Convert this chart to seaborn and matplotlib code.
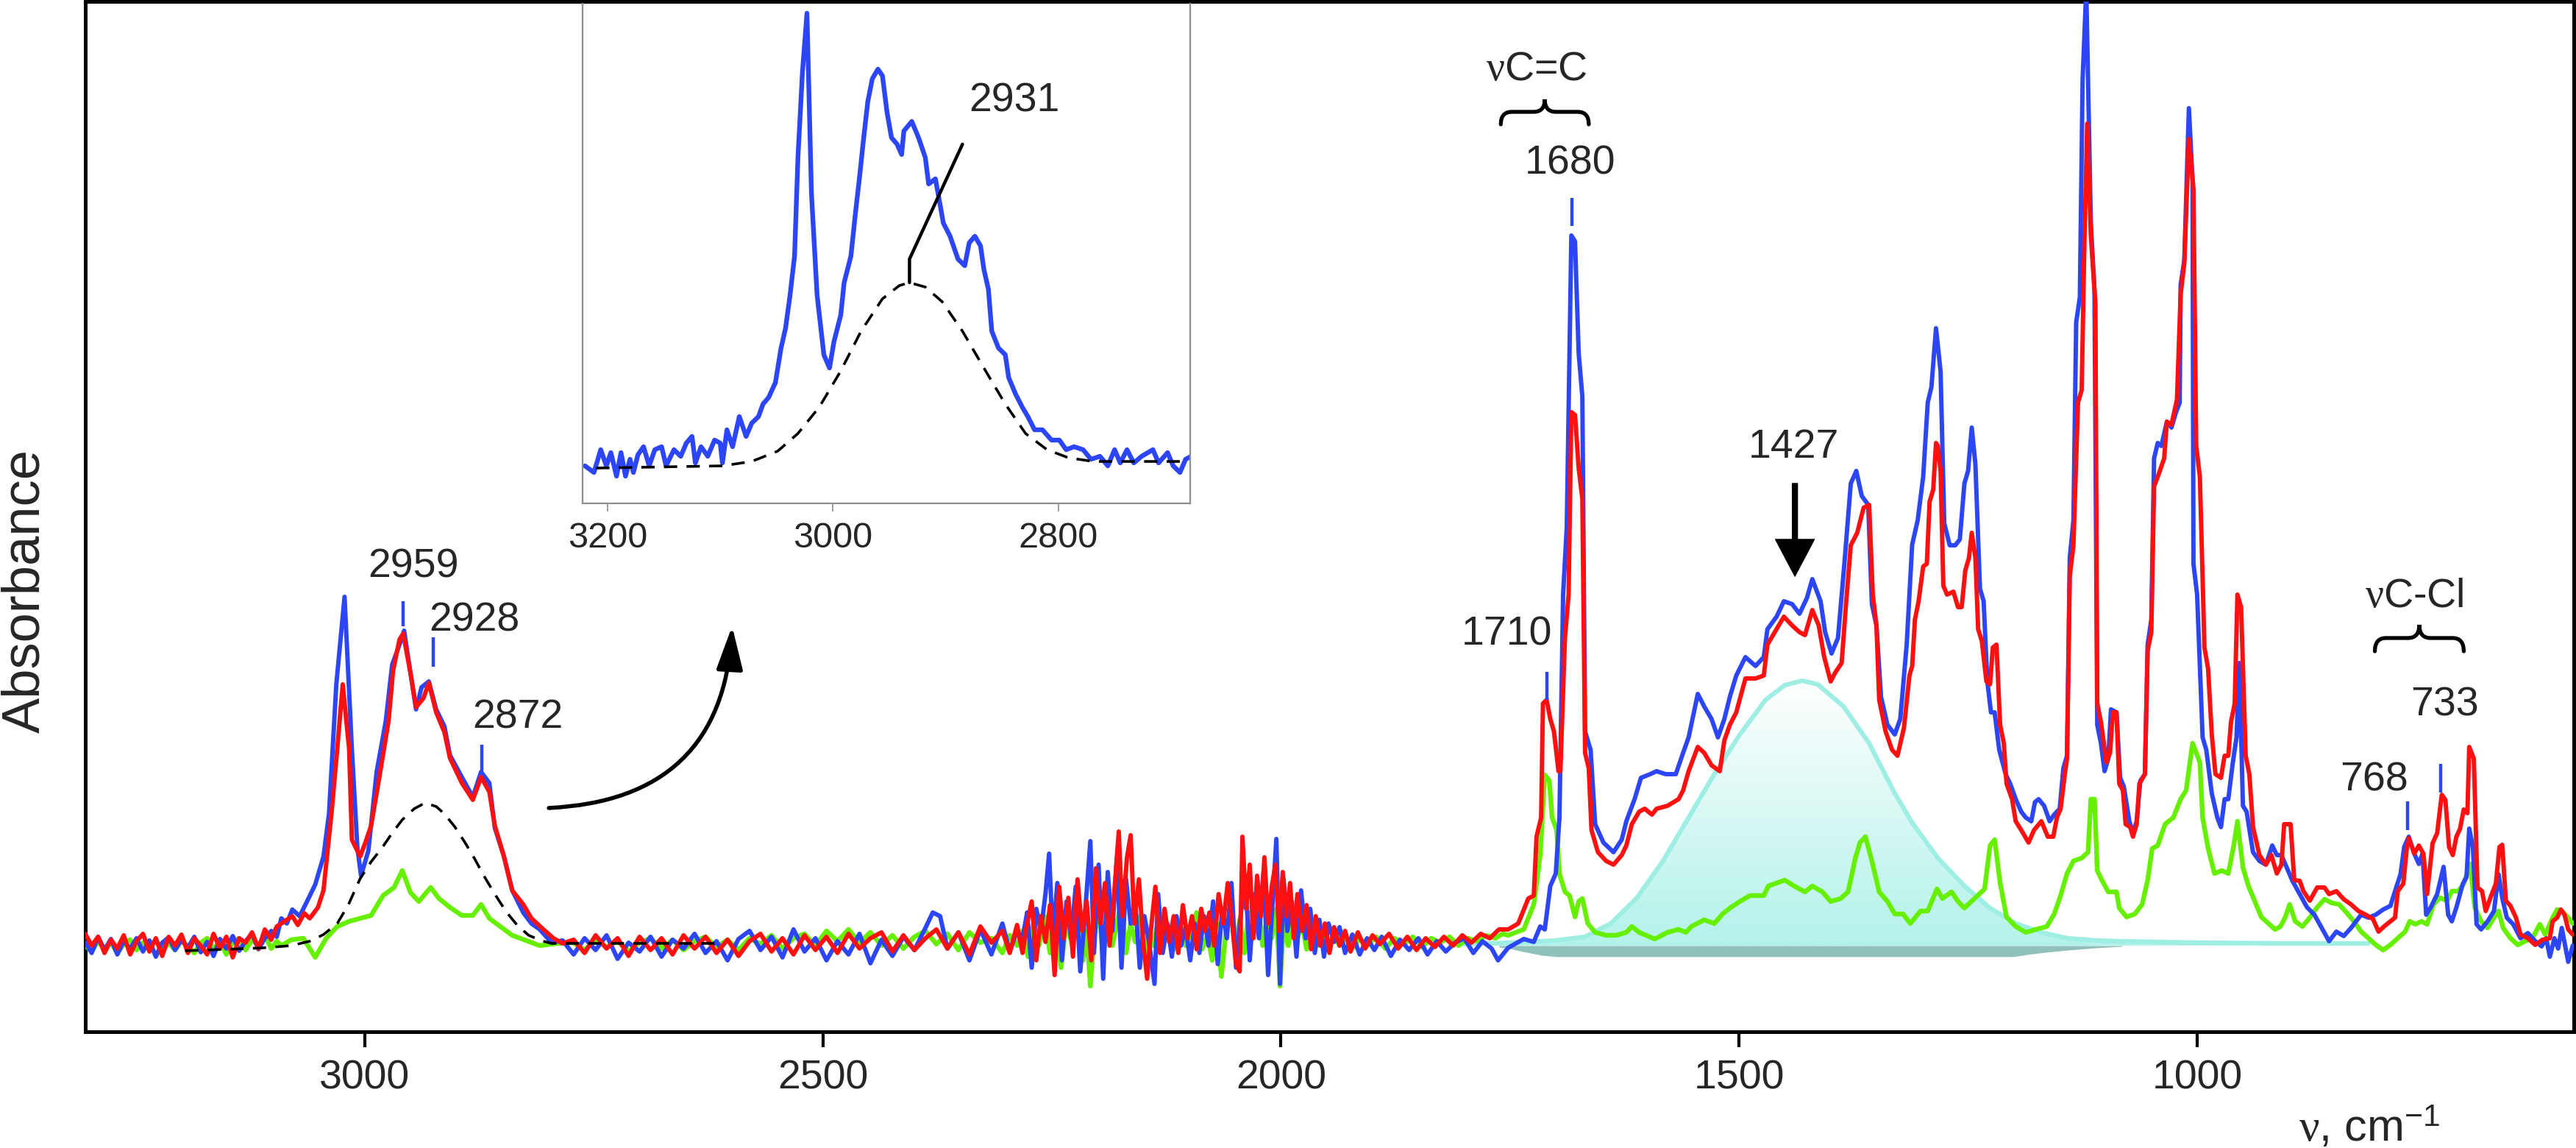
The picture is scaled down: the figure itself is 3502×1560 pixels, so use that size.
import numpy as np
import matplotlib
matplotlib.use('Agg')
import matplotlib.pyplot as plt
from matplotlib.path import Path
from matplotlib.patches import PathPatch
from matplotlib.colors import LinearSegmentedColormap
import seaborn as sns

# IR spectra: (wavenumber cm-1, absorbance, arbitrary units)
blue_pts = [
    (3305, .004), (3298, -.010), (3291, .012), (3284, -.006), (3277, .009), (3270, -.012),
    (3263, .006), (3256, -.004), (3249, .010), (3242, -.008), (3235, .007), (3228, -.015),
    (3221, .004), (3214, .011), (3207, -.006), (3200, .008), (3193, -.003), (3186, .012),
    (3179, -.009), (3172, .005), (3165, -.014), (3158, .009), (3151, -.004), (3144, .013),
    (3137, -.007), (3130, .006), (3123, .016), (3116, -.005), (3109, .010), (3102, .020),
    (3096, .012), (3091, .037), (3085, .030), (3079, .049), (3071, .040), (3063, .060),
    (3054, .083), (3045, .121), (3039, .179), (3031, .355), (3022, .474), (3014, .267),
    (3008, .133), (3004, .095), (2996, .129), (2987, .236), (2977, .305), (2970, .382),
    (2962, .409), (2957, .428), (2950, .370), (2944, .321), (2938, .351), (2930, .359),
    (2922, .321), (2913, .298), (2907, .259), (2894, .229), (2882, .202), (2873, .236),
    (2864, .221), (2858, .160), (2848, .121), (2839, .075), (2827, .045), (2818, .030),
    (2809, .022), (2796, .004), (2784, .007),
    (2772, -.012), (2760, .010), (2748, -.006), (2736, .014), (2724, -.018), (2712, .004),
    (2700, -.008), (2688, .012), (2676, -.015), (2664, .008), (2652, -.004), (2640, .016),
    (2628, -.010), (2616, .006), (2604, -.020), (2592, .009), (2580, .020), (2568, -.006),
    (2556, .012), (2544, -.016), (2532, .022), (2520, -.008), (2508, .010), (2496, -.020),
    (2484, .006), (2472, -.012), (2460, .016), (2448, -.024), (2436, .008), (2424, -.014),
    (2412, .012), (2400, -.006), (2388, .024), (2380, .045), (2372, .040), (2364, -.004),
    (2352, .018), (2340, -.020), (2328, .022), (2316, -.012), (2304, .030), (2296, -.008),
    (2288, .020),
    (2282, .010), (2277, .045), (2272, -.030), (2267, .050), (2262, .020), (2257, .070),
    (2253, .125), (2249, .010), (2244, .085), (2239, -.020), (2234, .060), (2229, .010),
    (2224, .080), (2219, -.035), (2214, .040), (2208, .142), (2204, -.010), (2199, .110),
    (2194, -.045), (2189, .100), (2184, .020), (2179, .120), (2174, -.030), (2169, .090),
    (2164, .030), (2159, .060), (2154, -.030), (2149, .040), (2144, .005), (2138, -.052),
    (2134, .070), (2129, -.010), (2124, .030), (2119, -.015), (2114, .040), (2109, .000),
    (2104, .025), (2099, -.020), (2094, .030), (2089, -.010), (2084, .040),
    (2079, .000), (2074, .060), (2069, -.025), (2064, .050), (2059, .010), (2054, .085),
    (2049, -.030), (2044, .040), (2039, .095), (2034, -.020), (2029, .070), (2024, .010),
    (2019, .100), (2014, -.040), (2009, .060), (2005, .145), (2001, -.052), (1997, .090),
    (1993, .020), (1988, .060), (1983, -.015), (1978, .075), (1973, .010), (1968, .050),
    (1963, -.010), (1958, .035), (1953, -.015), (1948, .030), (1942, .005), (1936, .025),
    (1930, -.010), (1922, .015), (1914, -.012), (1906, .010), (1898, -.006),
    (1890, .012), (1880, -.014), (1870, .008), (1860, -.006), (1850, .010), (1840, -.012),
    (1830, .006), (1820, -.008), (1810, .004), (1800, .010), (1790, -.010), (1780, .006),
    (1770, -.004), (1763, -.020), (1752, -.003),
    (1735, .009), (1724, .005), (1717, .026), (1712, .022), (1706, .081), (1700, .098),
    (1696, .174), (1692, .477), (1688, .569), (1683, .965), (1679, .957), (1675, .805),
    (1671, .746), (1668, .291), (1662, .266), (1657, .165), (1648, .140), (1637, .127),
    (1628, .144), (1623, .169), (1614, .199), (1607, .228), (1597, .233), (1590, .237),
    (1580, .233), (1569, .233), (1561, .262), (1555, .283), (1545, .342), (1538, .325),
    (1530, .308), (1523, .283), (1516, .308), (1510, .338), (1503, .367), (1493, .392),
    (1482, .380), (1473, .392), (1469, .430), (1459, .447), (1451, .468), (1442, .464),
    (1434, .451), (1426, .472), (1420, .498), (1411, .468), (1406, .426), (1399, .397),
    (1392, .418), (1385, .519), (1378, .628), (1372, .645), (1366, .611), (1359, .599),
    (1355, .464), (1350, .435), (1345, .338), (1338, .300), (1330, .287), (1324, .308),
    (1317, .409), (1311, .545),
    (1305, .578), (1299, .637), (1294, .738), (1290, .759), (1285, .839), (1280, .780),
    (1276, .574), (1270, .544), (1264, .544), (1259, .552), (1254, .628), (1250, .645),
    (1246, .704), (1242, .654), (1237, .485), (1233, .468), (1229, .359), (1225, .317),
    (1221, .317), (1216, .266), (1209, .233), (1204, .220), (1198, .199), (1192, .182),
    (1187, .174), (1181, .169), (1177, .195), (1173, .199), (1167, .190), (1161, .169),
    (1156, .178), (1150, .186), (1146, .241), (1142, .258), (1139, .527), (1135, .578),
    (1132, .847), (1128, .881), (1125, 1.176), (1121, 1.30), (1116, .982), (1112, .889),
    (1109, .300), (1105, .275), (1101, .237), (1097, .254), (1094, .321), (1088, .317),
    (1084, .228), (1080, .216), (1074, .169), (1070, .153), (1066, .169), (1062, .224),
    (1057, .233), (1054, .409), (1050, .443), (1047, .662), (1043, .683), (1039, .679),
    (1033, .712), (1028, .704), (1023, .725), (1019, .738), (1018, .898), (1014, .931),
    (1009, 1.138), (1005, 1.041), (1004, .519), (1000, .477), (994, .283), (990, .266),
    (984, .207), (978, .174), (974, .161), (970, .199), (966, .199), (961, .249),
    (957, .283), (954, .384), (950, .190), (946, .182), (939, .127), (932, .115),
    (925, .110), (918, .136), (913, .123), (908, .123),
    (896, .088), (888, .070), (880, .052), (872, .042), (864, .024), (856, .006),
    (848, .019), (840, .013), (832, .024), (821, .042), (813, .038), (805, .042),
    (797, .049), (789, .054), (784, .074), (778, .097), (774, .134), (769, .148),
    (763, .125), (758, .111), (754, .125), (750, .042), (745, .052), (738, .070),
    (731, .107), (726, .042), (722, .033), (717, .052), (710, .084), (706, .093),
    (703, .159), (699, .134), (695, .029), (690, .022), (683, .033), (676, .047),
    (671, .097), (667, .065), (662, .038), (655, .029), (647, .010), (639, .017),
    (631, .006), (624, -.001), (619, .010), (615, -.015), (610, .010), (606, -.004),
    (602, .024), (595, -.022), (590, .000),
]

red_pts = [
    (3305, .016), (3298, .000), (3291, .012), (3284, -.010), (3277, .008), (3270, -.004),
    (3263, .014), (3256, -.012), (3249, .006), (3242, .016), (3235, -.008), (3228, .010),
    (3221, -.014), (3214, .012), (3207, .000), (3200, .015), (3193, -.010), (3186, .010),
    (3179, .000), (3172, -.012), (3165, .016), (3158, -.004), (3151, .012), (3144, -.016),
    (3137, .010), (3130, .004), (3123, .018), (3116, -.004), (3109, .022), (3102, .008),
    (3096, .026), (3091, .030), (3079, .040), (3073, .028), (3066, .044), (3060, .037),
    (3051, .052), (3045, .075), (3036, .183), (3030, .267), (3024, .355), (3017, .267),
    (3014, .144), (3005, .121), (2999, .141), (2993, .163), (2984, .229), (2974, .305),
    (2969, .374), (2962, .416), (2958, .424), (2950, .370), (2944, .324), (2936, .336),
    (2930, .357), (2922, .317), (2913, .290), (2907, .255), (2894, .221), (2882, .198),
    (2873, .229), (2864, .209), (2858, .163), (2848, .121), (2839, .075), (2827, .056),
    (2818, .037), (2805, .022), (2794, .010), (2784, .003),
    (2772, .008), (2760, -.010), (2748, .014), (2736, -.004), (2724, .010), (2712, -.014),
    (2700, .012), (2688, -.006), (2676, .010), (2664, -.012), (2652, .014), (2640, -.004),
    (2628, .012), (2616, -.010), (2604, .008), (2592, -.014), (2580, .006), (2568, .016),
    (2556, -.008), (2544, .010), (2532, -.012), (2520, .014), (2508, -.006), (2496, .012),
    (2484, -.010), (2472, .016), (2460, -.004), (2448, .010), (2436, .018), (2424, -.008),
    (2412, .014), (2400, -.006), (2388, .010), (2376, .022), (2364, -.004), (2352, .018),
    (2340, -.012), (2328, .026), (2316, .004), (2304, .020), (2296, -.010), (2288, .028),
    (2282, -.010), (2277, .030), (2272, .060), (2267, -.020), (2262, .040), (2257, .005),
    (2252, .055), (2247, -.040), (2242, .080), (2237, .010), (2232, .065), (2227, -.015),
    (2222, .090), (2217, .020), (2212, .060), (2207, -.020), (2202, .105), (2197, .030),
    (2192, .085), (2187, .000), (2182, .070), (2177, .155), (2173, .040), (2168, .120),
    (2164, .150), (2160, .030), (2155, .090), (2150, .000), (2146, -.045), (2142, .020),
    (2137, .080), (2132, -.010), (2127, .050), (2122, .005), (2117, .040), (2112, -.010),
    (2107, .055), (2102, .010), (2097, .040), (2092, -.005), (2087, .050), (2083, .020),
    (2078, .045), (2073, .000), (2068, .070), (2063, .030), (2058, .085), (2054, .040),
    (2049, -.025), (2045, -.035), (2042, .148), (2038, .050), (2034, .110), (2030, .010),
    (2026, .095), (2022, .040), (2018, .120), (2014, .030), (2010, .080), (2006, .110),
    (2002, .020), (1998, .100), (1994, .040), (1990, .085), (1986, .010), (1982, .070),
    (1977, .020), (1972, .055), (1967, -.005), (1962, .040), (1957, .000), (1952, .030),
    (1947, -.010), (1942, .025), (1936, .000), (1930, .020), (1924, -.008), (1916, .018),
    (1908, -.004), (1900, .014),
    (1892, .002), (1882, .016), (1872, -.004), (1862, .012), (1852, -.006), (1842, .010),
    (1832, -.002), (1822, .012), (1812, .000), (1802, .014), (1792, .004), (1782, .016),
    (1772, .010), (1762, .022),
    (1752, .022), (1741, .030), (1730, .064), (1724, .068), (1721, .148), (1716, .174),
    (1714, .329), (1710, .334), (1706, .308), (1702, .291), (1697, .237), (1695, .237),
    (1690, .418), (1686, .477), (1683, .725), (1679, .721), (1675, .649), (1671, .607),
    (1668, .262), (1664, .241), (1661, .157), (1654, .127), (1645, .115), (1637, .110),
    (1628, .123), (1623, .136), (1617, .165), (1609, .182), (1603, .186), (1595, .178),
    (1590, .186), (1578, .190), (1566, .199), (1561, .211), (1555, .237), (1545, .270),
    (1538, .262), (1530, .245), (1521, .237), (1516, .279), (1510, .300), (1503, .317),
    (1493, .363), (1482, .363), (1473, .367), (1469, .409), (1459, .430), (1451, .447),
    (1442, .435), (1434, .426), (1428, .422), (1420, .456), (1413, .435), (1407, .392),
    (1400, .359), (1395, .371), (1388, .384), (1383, .468), (1378, .544), (1371, .561),
    (1364, .595), (1358, .599), (1354, .477), (1350, .435), (1347, .334), (1340, .291),
    (1333, .266), (1327, .258), (1320, .296), (1314, .367), (1311, .380),
    (1308, .443), (1304, .468), (1299, .515), (1295, .519), (1292, .603), (1288, .620),
    (1285, .683), (1283, .679), (1280, .645), (1277, .489), (1273, .477), (1266, .481),
    (1261, .460), (1257, .460), (1253, .510), (1249, .527), (1246, .561), (1242, .527),
    (1239, .430), (1235, .414), (1230, .359), (1226, .355), (1223, .405), (1219, .409),
    (1215, .300), (1211, .275), (1208, .220), (1202, .199), (1198, .169), (1192, .157),
    (1184, .140), (1178, .157), (1170, .169), (1163, .148), (1157, .148), (1153, .174),
    (1149, .186), (1144, .237), (1142, .254), (1139, .502), (1135, .544), (1130, .738),
    (1126, .755), (1123, .957), (1120, 1.117), (1116, .965), (1111, .872), (1109, .329),
    (1105, .304), (1099, .249), (1095, .262), (1092, .317), (1088, .317), (1085, .220),
    (1081, .211), (1078, .165), (1073, .161), (1070, .148), (1066, .165), (1063, .220),
    (1057, .233), (1054, .401), (1050, .426), (1047, .624), (1043, .637), (1036, .662),
    (1033, .712), (1028, .708), (1022, .742), (1018, .885), (1014, .927), (1009, 1.096),
    (1004, 1.028), (1001, .679), (997, .637), (992, .405), (988, .376), (984, .287),
    (980, .233), (974, .228), (970, .258), (966, .258), (963, .304), (959, .329),
    (956, .477), (952, .460), (947, .258), (943, .233), (939, .161), (932, .123),
    (925, .110), (919, .123), (913, .098), (908, .110), (905, .165), (898, .165),
    (894, .089), (888, .088), (884, .074), (877, .061), (869, .079), (861, .079),
    (856, .070), (848, .074), (840, .063), (832, .056), (824, .047), (816, .042),
    (808, .036), (802, .019), (796, .026), (789, .033), (784, .038), (781, .074),
    (775, .084), (771, .134), (769, .146), (763, .125), (758, .136), (753, .125),
    (749, .070), (743, .139), (738, .153), (733, .205), (729, .198), (725, .134),
    (721, .123), (717, .148), (713, .159), (709, .185), (705, .180), (703, .270),
    (698, .254), (694, .079), (689, .074), (685, .047), (679, .068), (674, .084),
    (670, .134), (667, .137), (663, .061), (658, .054), (652, .038), (647, .015),
    (639, .010), (631, .001), (623, .008), (615, .010), (612, .033), (607, .038),
    (603, .049), (599, .042), (595, .022), (590, .015),
]

green_pts = [
    (3305, .000), (3298, -.008), (3291, .006), (3284, -.004), (3277, .004), (3270, -.010),
    (3263, .002), (3256, .008), (3249, -.006), (3242, .004), (3235, -.002), (3228, .008),
    (3221, -.008), (3214, .004), (3207, -.006), (3200, .006), (3193, .000), (3186, -.010),
    (3179, .004), (3172, .010), (3165, -.004), (3158, .006), (3151, -.012), (3144, .004),
    (3137, .010), (3130, -.006), (3123, .008), (3116, .000), (3109, .014), (3102, -.004),
    (3096, .006), (3091, .000), (3080, .008), (3067, .010), (3054, -.016), (3042, .010),
    (3030, .026), (3017, .033), (3005, .037), (2993, .041), (2980, .068), (2968, .079),
    (2959, .102), (2950, .072), (2941, .060), (2928, .079), (2919, .064), (2907, .052),
    (2894, .041), (2882, .041), (2873, .056), (2864, .037), (2852, .026), (2839, .014),
    (2824, .007), (2809, .000), (2790, .003),
    (2772, .004), (2760, -.006), (2748, .008), (2736, -.002), (2724, .006), (2712, -.008),
    (2700, .004), (2688, .010), (2676, -.004), (2664, .008), (2652, -.006), (2640, .006),
    (2628, .012), (2616, -.002), (2604, .008), (2592, -.006), (2580, .010), (2568, .002),
    (2556, .014), (2544, -.004), (2532, .010), (2520, .016), (2508, .000), (2496, .020),
    (2484, .006), (2472, .022), (2460, .004), (2448, .018), (2436, .000), (2424, .014),
    (2412, -.004), (2400, .012), (2388, .020), (2376, .002), (2364, .016), (2352, -.006),
    (2340, .018), (2328, .004), (2316, .010), (2304, -.010), (2296, .014), (2288, .000),
    (2282, .020), (2276, -.015), (2270, .030), (2264, .000), (2258, .040), (2252, -.010),
    (2246, .025), (2240, -.030), (2234, .035), (2228, .000), (2222, .045), (2216, -.020),
    (2212, .020), (2208, -.055), (2204, .010), (2199, .050), (2194, -.015), (2189, .040),
    (2184, .000), (2179, .030), (2174, .060), (2169, -.010), (2164, .030), (2159, .005),
    (2154, .040), (2149, -.010), (2144, .020), (2139, .000), (2134, .035), (2128, .005),
    (2122, .025), (2116, -.005), (2110, .030), (2104, .000), (2098, .020), (2092, .045),
    (2086, -.005),
    (2080, .015), (2075, -.020), (2070, .030), (2065, -.042), (2060, .020), (2055, .050),
    (2050, .000), (2045, .035), (2040, -.010), (2035, .045), (2030, .015), (2025, .060),
    (2020, .000), (2015, .040), (2010, .010), (2005, .050), (2001, -.055), (1997, .030),
    (1992, .000), (1987, .040), (1982, .010), (1977, .030), (1972, -.005), (1966, .025),
    (1960, .000), (1954, .020), (1948, -.008), (1942, .016), (1936, .000), (1930, .012),
    (1922, -.004), (1914, .010),
    (1906, .000), (1896, .012), (1886, -.004), (1876, .010), (1866, .002), (1856, .012),
    (1846, -.002), (1836, .010), (1826, .004), (1816, .012), (1806, .000), (1796, .010),
    (1786, .006), (1776, .014), (1766, .010), (1758, .016),
    (1752, .014), (1735, .022), (1724, .056), (1717, .123), (1712, .232), (1707, .224),
    (1704, .174), (1699, .157), (1696, .098), (1690, .073), (1685, .068), (1679, .039),
    (1675, .060), (1671, .064), (1665, .030), (1657, .018), (1645, .014), (1634, .014),
    (1623, .018), (1617, .026), (1609, .018), (1592, .009), (1578, .018), (1566, .022),
    (1558, .018), (1552, .026), (1538, .035), (1527, .030), (1518, .043), (1510, .051),
    (1499, .060), (1488, .068), (1473, .068), (1468, .081), (1459, .085), (1450, .089),
    (1440, .081), (1428, .073), (1420, .081), (1409, .073), (1400, .060), (1389, .064),
    (1381, .073), (1373, .119), (1368, .140), (1362, .148), (1355, .115), (1347, .073),
    (1338, .060), (1330, .043), (1321, .043), (1313, .030),
    (1302, .047), (1294, .047), (1284, .077), (1278, .064), (1268, .073), (1261, .060),
    (1254, .051), (1243, .064), (1232, .077), (1226, .136), (1221, .144), (1215, .085),
    (1208, .039), (1198, .026), (1187, .018), (1176, .022), (1164, .026), (1156, .043),
    (1149, .068), (1142, .098), (1135, .115), (1126, .119), (1119, .127), (1116, .199),
    (1112, .199), (1109, .102), (1104, .089), (1097, .073), (1088, .073), (1085, .051),
    (1077, .039), (1068, .043), (1060, .056), (1054, .089), (1049, .132), (1043, .136),
    (1035, .165), (1026, .174), (1018, .199), (1012, .211), (1005, .275), (1001, .262),
    (997, .249), (994, .174), (988, .132), (981, .098), (973, .102), (966, .098),
    (960, .136), (956, .169), (950, .106), (944, .081), (937, .060), (930, .039),
    (922, .030), (915, .022), (909, .026),
    (904, .038), (899, .056), (893, .033), (885, .026), (877, .038), (869, .052),
    (861, .063), (853, .058), (845, .056), (837, .045), (829, .033), (821, .019),
    (813, .010), (805, .001), (797, -.006), (789, .001), (781, .010), (773, .019),
    (768, .033), (762, .029), (755, .033), (749, .029), (742, .056), (735, .065),
    (727, .061), (722, .074), (715, .074), (709, .084), (702, .111), (697, .052),
    (690, .033), (683, .024), (676, .038), (671, .047), (666, .024), (658, .010),
    (650, .001), (642, .006), (634, .010), (626, .029), (620, .015), (612, .038),
    (607, .049), (602, .047), (595, .038), (590, .030),
]

# fitted components
gauss_2931 = [
    (3196, -.007), (3150, -.005), (3110, -.003), (3080, .000), (3060, .006), (3045, .015),
    (3030, .030), (3018, .055), (3005, .091), (2993, .114), (2981, .133), (2970, .153),
    (2959, .171), (2946, .186), (2934, .194), (2922, .189), (2913, .179), (2902, .162),
    (2891, .141), (2880, .118), (2870, .095), (2857, .068), (2845, .045), (2833, .027),
    (2821, .014), (2808, .007), (2796, .003), (2700, .003), (2612, .003),
]
band_1427 = [
    (1800, .002), (1770, .003), (1750, .004), (1730, .005), (1700, .007), (1668, .012),
    (1640, .030), (1612, .064), (1583, .115), (1555, .174), (1527, .233), (1499, .287),
    (1471, .334), (1450, .354), (1431, .360), (1414, .355), (1386, .325), (1358, .275),
    (1330, .207), (1311, .167), (1283, .119), (1254, .081), (1226, .051), (1198, .030),
    (1170, .018), (1142, .010), (1110, .007), (1085, .006), (1000, .004), (900, .003),
    (813, .003),
]
shadow_wn = [1762, 1750, 1740, 1728, 1716, 1700, 1200, 1185, 1165, 1140, 1110, 1082]
shadow_lo = [-.002, -.004, -.007, -.010, -.013, -.015, -.015, -.012, -.009, -.006, -.003, -.001]

# inset (2931 region, blue spectrum only)
inset_blue = [
    (3220, .001), (3212, -.008), (3206, .023), (3201, .001), (3197, .019), (3192, -.013),
    (3188, .019), (3184, -.013), (3180, .010), (3177, -.008), (3173, .016), (3168, .027),
    (3163, .001), (3158, .023), (3152, .027), (3148, .001), (3141, .023), (3135, .014),
    (3130, .032), (3125, .041), (3122, .005), (3117, .027), (3111, .014), (3105, .036),
    (3100, .032), (3098, .005), (3094, .050), (3089, .027), (3083, .068), (3077, .041),
    (3072, .059), (3066, .068), (3062, .085), (3057, .094), (3051, .114), (3046, .161),
    (3042, .188), (3038, .233), (3034, .286), (3031, .420), (3027, .536), (3023, .616),
    (3019, .371), (3014, .233), (3008, .152), (3003, .134), (2999, .170), (2993, .206),
    (2990, .250), (2984, .286), (2980, .344), (2976, .398), (2973, .442), (2969, .496),
    (2965, .527), (2960, .540), (2956, .531), (2952, .482), (2948, .447), (2943, .438),
    (2939, .424), (2937, .456), (2930, .469), (2924, .447), (2918, .420), (2915, .384),
    (2909, .391), (2905, .357), (2902, .331), (2896, .313), (2889, .282), (2883, .273),
    (2879, .304), (2874, .313), (2869, .300), (2866, .268), (2862, .241), (2859, .184),
    (2853, .161), (2847, .152), (2844, .121), (2838, .099), (2832, .081), (2827, .068),
    (2821, .050), (2814, .050), (2806, .036), (2799, .036), (2793, .023), (2786, .027),
    (2778, .023), (2771, .010), (2763, .014), (2756, .001), (2750, .023), (2745, .005),
    (2739, .023), (2733, .005), (2726, .014), (2716, .023), (2711, .005), (2703, .019),
    (2698, .001), (2692, -.008), (2687, .010), (2682, .014),
]
inset_gauss = [
    (3210, -.002), (3098, .001), (3072, .007), (3049, .021), (3031, .045), (3012, .081),
    (2993, .130), (2975, .184), (2956, .228), (2941, .246), (2932, .250), (2918, .244),
    (2903, .224), (2885, .184), (2866, .134), (2847, .085), (2829, .045), (2810, .023),
    (2791, .012), (2769, .007), (2687, .007),
]

# peak position marks (blue dashes above the peaks)
mark_wn = [2958, 2925, 2872, 1710, 1682, 770, 734]
mark_lo = [.434, .379, .237, .334, .978, .157, .208]
mark_hi = [.468, .419, .273, .372, 1.016, .196, .247]

# peak labels: text, wavenumber, absorbance, alignment
peak_labels = [
    ('2959', 2947, .514, 'center'), ('2928', 2880, .441, 'center'),
    ('2872', 2833, .309, 'center'), ('1710', 1704, .422, 'right'),
    ('1680', 1684, 1.062, 'center'), ('1427', 1440, .677, 'center'),
    ('733', 730, .326, 'center'), ('768', 770, .224, 'right'),
]

BLUE = '#2b45f7'
RED = '#ff1010'
GREEN = '#66f000'
CYAN = '#9feee4'

sns.set_style('white')
plt.rcParams['font.family'] = ['Liberation Sans', 'DejaVu Sans']
plt.rcParams['mathtext.fontset'] = 'custom'
plt.rcParams['mathtext.rm'] = 'Liberation Sans'
plt.rcParams['mathtext.it'] = 'Liberation Serif'


def to_xy(pts):
    wn, a = zip(*pts)
    return np.array(wn), np.array(a)


def brace(ax, x1, x2, y, h, lw=3.8):
    xm = (x1 + x2) / 2
    q = (x2 - x1) / 8
    verts = [(x1, y - h), (x1, y), (x1 + q, y), (xm - q, y), (xm, y), (xm, y + h),
             (xm, y), (xm + q, y), (x2 - q, y), (x2, y), (x2, y - h)]
    codes = [Path.MOVETO, Path.CURVE3, Path.CURVE3, Path.LINETO, Path.CURVE3, Path.CURVE3,
             Path.CURVE3, Path.CURVE3, Path.LINETO, Path.CURVE3, Path.CURVE3]
    ax.add_patch(PathPatch(Path(verts, codes), fill=False, lw=lw, color='black',
                           capstyle='round', zorder=6))


fig = plt.figure(figsize=(35.02, 15.6), dpi=100)
ax = fig.add_axes([0.0331, 0.1013, 0.9660, 0.8971])

# shaded 1427 component
ax.fill_between(shadow_wn, shadow_lo, 0, color='#8fc0b9', lw=0, zorder=1)
cwn, ca = to_xy(band_1427)
poly = ax.fill_between(cwn, 0, ca, color='none', lw=0)
grad = np.linspace(0, 1, 256).reshape(-1, 1)
cmap = LinearSegmentedColormap.from_list('fade', ['#b3f2ea', '#ffffff'])
im = ax.imshow(grad, extent=[cwn.min(), cwn.max(), 0, ca.max()], origin='lower',
               aspect='auto', cmap=cmap, zorder=1.5)
im.set_clip_path(poly.get_paths()[0], transform=ax.transData)
sns.lineplot(x=cwn, y=ca, ax=ax, color=CYAN, linewidth=4.5, sort=False, estimator=None, zorder=2)

gwn, ga = to_xy(gauss_2931)
sns.lineplot(x=gwn, y=ga, ax=ax, color='black', linewidth=2.6, linestyle=(0, (5, 3.5)),
             sort=False, estimator=None, zorder=5)

for pts, col, lw, z in [(green_pts, GREEN, 4.6, 3), (blue_pts, BLUE, 4.3, 3.5), (red_pts, RED, 4.3, 4)]:
    wn, a = to_xy(pts)
    sns.lineplot(x=wn, y=a, ax=ax, color=col, linewidth=lw, sort=False, estimator=None, zorder=z)

ax.vlines(mark_wn, mark_lo, mark_hi, color=BLUE, lw=3.2, zorder=5)

for txt, x, y, ha in peak_labels:
    ax.text(x, y, txt, fontsize=40, ha=ha, va='center', zorder=7)
ax.text(1721, 1.19, r'$\nu$C=C', fontsize=40, ha='center', va='center', zorder=7)
ax.text(763, .474, r'$\nu$C-Cl', fontsize=40, ha='center', va='center', zorder=7)
brace(ax, 1760, 1664, 1.133, .017)
brace(ax, 806, 709, .418, .018)

ax.annotate('', xy=(1439, .502), xytext=(1439, .628),
            arrowprops=dict(width=5, headwidth=38, headlength=36, facecolor='black',
                            edgecolor='black', shrink=0), zorder=7)
ax.annotate('', xy=(2599, .434), xytext=(2799, .187),
            arrowprops=dict(arrowstyle='-|>,head_length=1.8,head_width=0.55',
                            connectionstyle='arc3,rad=0.45', color='black', lw=4,
                            mutation_scale=20, shrinkA=0, shrinkB=0), zorder=7)

ax.set_xlim(3305, 589)
ax.set_ylim(-0.117, 1.2825)
ax.set_xticks([3000, 2500, 2000, 1500, 1000])
ax.set_yticks([])
ax.tick_params(axis='x', bottom=True, direction='out', length=15, width=3,
               labelsize=40, pad=12, color='black')
for s in ax.spines.values():
    s.set_color('black')
    s.set_linewidth(3.6)
ax.set_xlabel('')
ax.set_ylabel('')

# inset
axin = fig.add_axes([0.2262, 0.5615, 0.2358, 0.4353])
iwn, ia = to_xy(inset_blue)
sns.lineplot(x=iwn, y=ia, ax=axin, color=BLUE, linewidth=4.6, sort=False, estimator=None)
gwn2, ga2 = to_xy(inset_gauss)
sns.lineplot(x=gwn2, y=ga2, ax=axin, color='black', linewidth=2.6, linestyle=(0, (5, 3.5)),
             sort=False, estimator=None)
axin.plot([2932, 2932, 2885], [.250, .282, .438], color='black', lw=3.2)
axin.text(2879, .497, '2931', fontsize=40, ha='left', va='center')
axin.set_xlim(3222, 2683)
axin.set_ylim(-0.05, 0.629)
axin.set_xticks([3200, 3000, 2800])
axin.set_yticks([])
axin.tick_params(axis='x', bottom=True, direction='out', length=8, width=1.2,
                 color='#8a9092', labelsize=35, pad=10)
axin.spines['top'].set_visible(False)
for k in ['left', 'right', 'bottom']:
    axin.spines[k].set_color('#8a9092')
    axin.spines[k].set_linewidth(1.6)
axin.set_xlabel('')
axin.set_ylabel('')

fig.text(0.010, 0.485, 'Absorbance', rotation=90, fontsize=52, ha='center', va='center')
fig.text(0.8923, 0.0064, r'$\nu$, cm$^{-1}$', fontsize=44, ha='left', va='baseline')

fig.savefig('out.png', dpi=100)
